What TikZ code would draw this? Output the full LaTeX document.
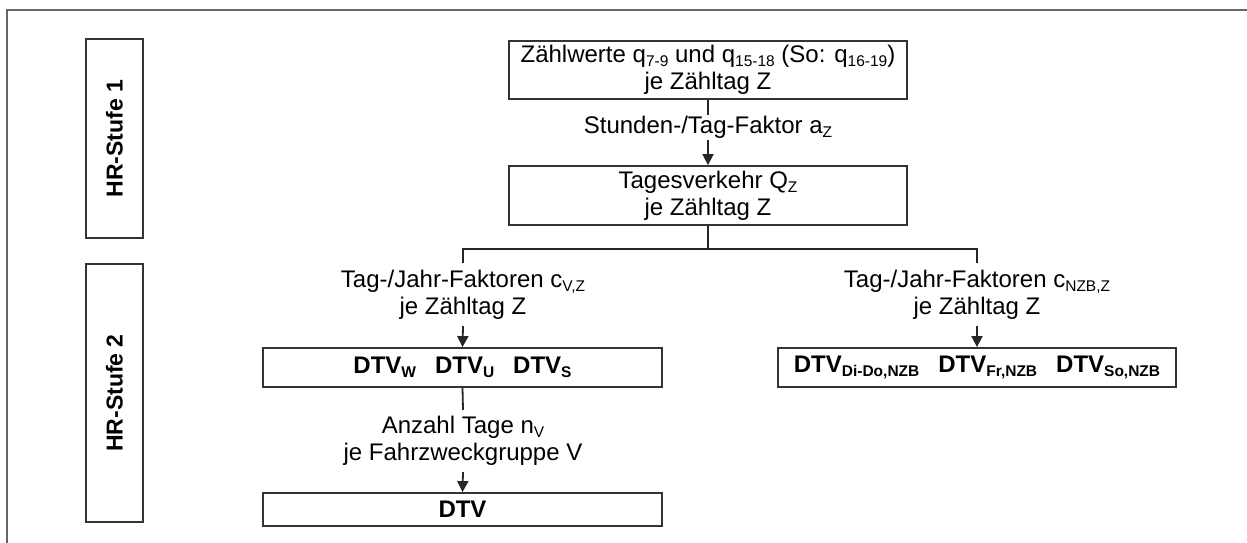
\documentclass[tikz,border=0pt]{standalone}
\usepackage{fontspec}
\setmainfont{Liberation Sans}
\usetikzlibrary{arrows.meta}
\newcommand\lowsub[1]{\raisebox{-0.3ex}{\fontsize{15.5}{15.5}\selectfont #1}}
\tikzset{
  box/.style={draw=black!80, line width=1.8pt, inner sep=0pt, align=center, font=\fontsize{24}{27}\selectfont},
  lbl/.style={inner sep=0pt, align=center, font=\fontsize{24}{27}\selectfont},
  conn/.style={draw=black!85, line width=1.8pt},
  arr/.style={conn, -{Triangle[length=11pt,width=11pt]}},
  frame/.style={draw=black!60, line width=1.8pt}
}
\begin{document}
\begin{tikzpicture}[x=1pt,y=-1pt]
\useasboundingbox (0,0) rectangle (1247,543);
\coordinate (ftr) at (1250,10);
\coordinate (ftl) at (7,10);
\coordinate (fbl) at (7,546);
\draw[frame] (ftr) -- (ftl) -- (fbl);

\node[box, minimum width=57pt, minimum height=199pt] (hr1) at (114.5,138.5)
  {\rotatebox{90}{\bfseries\fontsize{23}{24}\selectfont HR-Stufe 1}};
\node[box, minimum width=57pt, minimum height=258pt] (hr2) at (114.5,393)
  {\rotatebox{90}{\bfseries\fontsize{23}{24}\selectfont HR-Stufe 2}};

\node[box, minimum width=398pt, minimum height=58pt] (zw) at (708,70)
  {Zählwerte q\lowsub{7-9} und q\lowsub{15-18} (So: q\lowsub{16-19})\\je Zähltag Z};
\node[lbl, minimum height=25pt] (l1) at (708,127.5) {Stunden-/Tag-Faktor a\lowsub{Z}};
\node[box, minimum width=398pt, minimum height=59pt] (qz) at (708,195.5)
  {Tagesverkehr Q\lowsub{Z}\\je Zähltag Z};
\coordinate (split) at (708,249);
\coordinate (sl) at (463,249);
\coordinate (sr) at (977,249);

\node[lbl, minimum height=63pt] (l2) at (463,294.5) {Tag-/Jahr-Faktoren c\lowsub{V,Z}\\je Zähltag Z};
\node[box, font=\bfseries\fontsize{24}{27}\selectfont, minimum width=399pt, minimum height=39pt] (dtvs) at (462.5,367.5)
  {DTV\lowsub{W}\hspace{19pt}DTV\lowsub{U}\hspace{19pt}DTV\lowsub{S}};
\node[lbl, minimum height=62pt] (l3) at (463,441) {Anzahl Tage n\lowsub{V}\\je Fahrzweckgruppe V};
\node[box, font=\bfseries\fontsize{24}{27}\selectfont, minimum width=399pt, minimum height=33pt] (dtv) at (462.5,509.5) {DTV};

\node[lbl, minimum height=63pt] (l4) at (977,294.5) {Tag-/Jahr-Faktoren c\lowsub{NZB,Z}\\je Zähltag Z};
\node[box, font=\bfseries\fontsize{24}{27}\selectfont, minimum width=398pt, minimum height=39pt] (nzb) at (977,367.5)
  {DTV\lowsub{Di-Do,NZB}\hspace{19pt}DTV\lowsub{Fr,NZB}\hspace{19pt}DTV\lowsub{So,NZB}};

\draw[conn] (zw.south) -- (l1.north);
\draw[arr] (l1.south) -- (qz.north);
\draw[conn] (qz.south) -- (split);
\draw[conn] (l2.north) -- (sl) -- (sr) -- (l4.north);
\draw[arr] (l2.south) -- (dtvs.north);
\draw[conn] (dtvs.south) -- (l3.north);
\draw[arr] (l3.south) -- (dtv.north);
\draw[arr] (l4.south) -- (nzb.north);
\end{tikzpicture}
\end{document}
